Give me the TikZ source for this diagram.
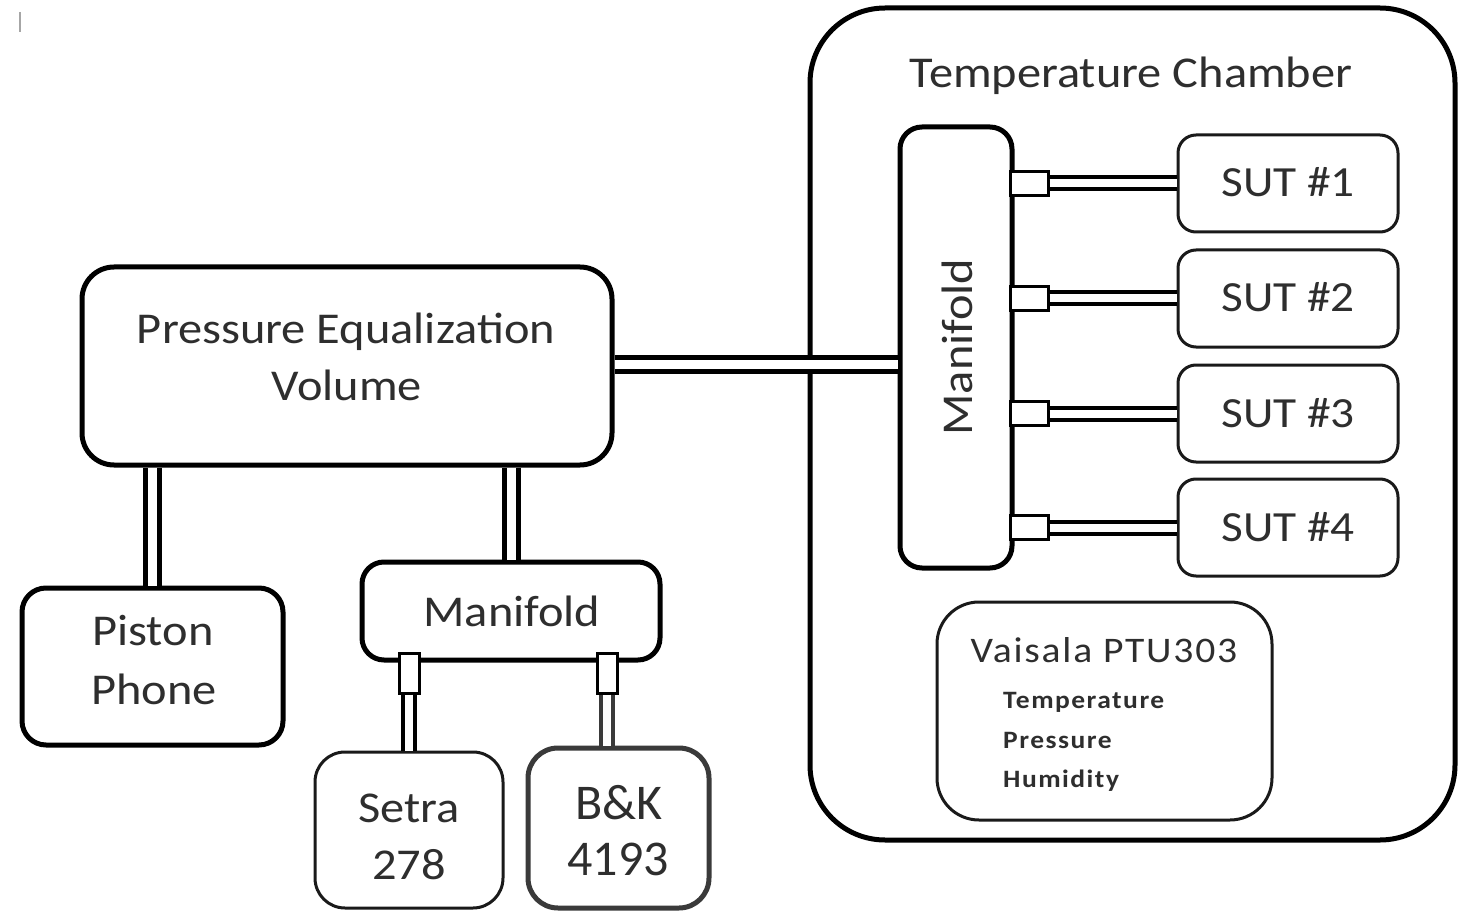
\documentclass[tikz,border=0pt]{standalone}
\usepackage{fontspec}
\setmainfont{Carlito}[FakeStretch=1.1]
\newfontfamily\plainfont{Carlito}
\definecolor{txt}{HTML}{2E2E2E}
\definecolor{edge}{HTML}{1A1A1A}
\definecolor{bkedge}{HTML}{3A3A3A}
\tikzset{
  heavybox/.style={draw=black, line width=5pt, fill=white, inner sep=0pt},
  lightbox/.style={draw=edge, line width=3pt, fill=white, inner sep=0pt},
  label/.style={inner sep=0pt, text=txt, anchor=base},
  fitting/.style={draw=black, line width=3pt, fill=white, inner sep=0pt},
  tube/.style={draw=black, line width=5pt, double=white, double distance=9pt},
  thintube/.style={draw=black, line width=4pt, double=white, double distance=8pt},
}
\newcommand{\fsz}[1]{\fontsize{#1}{#1}\selectfont}
\begin{document}
\begin{tikzpicture}[x=1pt, y=-1pt]
\useasboundingbox (0,0) rectangle (1460,912);

% stray mark near the top-left corner
\draw[gray!70, line width=1.5pt] (20,12) -- (20,32);

% temperature chamber enclosure
\node[heavybox, rounded corners=75pt, minimum width=645pt, minimum height=832pt]
  (chamber) at (1132.5,424) {};
\node[label, font=\fsz{44}] (chtitle) at (1131,88) {Temperature Chamber};

% pressure equalization volume and what hangs below it
\node[heavybox, rounded corners=32pt, minimum width=530pt, minimum height=198pt]
  (pev) at (347,366) {};
\node[label, font=\fsz{44}] (pev1) at (346,343) {Pressure Equalization};
\node[label, font=\fsz{44}] (pev2) at (347,400) {Volume};

\node[heavybox, rounded corners=24pt, minimum width=261pt, minimum height=157pt]
  (piston) at (152.5,666.5) {};
\node[label, font=\fsz{44}] (piston1) at (153,645) {Piston};
\node[label, font=\fsz{44}] (piston2) at (154,704) {Phone};

\node[heavybox, rounded corners=22pt, minimum width=298pt, minimum height=98pt]
  (manB) at (511,611) {};
\node[label, font=\fsz{44}] (manBtext) at (512,626) {Manifold};

\node[lightbox, rounded corners=30pt, minimum width=188pt, minimum height=156pt]
  (setra) at (409,830) {};
\node[label, font=\fsz{44}] (setra1) at (409,822) {Setra};
\node[label, font=\fsz{44}] (setra2) at (409,879) {278};

\node[draw=bkedge, line width=5pt, fill=white, inner sep=0pt,
  rounded corners=30pt, minimum width=181pt, minimum height=160pt]
  (bk) at (618.5,828) {};
\node[label, font=\plainfont\fsz{50}] (bk1) at (619,819) {B\&K};
\node[label, font=\plainfont\fsz{50}] (bk2) at (618,875) {4193};

% fittings under the lower manifold
\node[fitting, minimum width=20pt, minimum height=40pt] (fitB1) at (409,673) {};
\node[fitting, minimum width=20pt, minimum height=40pt] (fitB2) at (607,673) {};

% manifold inside the chamber
\node[heavybox, rounded corners=22pt, minimum width=112pt, minimum height=441pt]
  (manR) at (956,347.5) {};
\node[inner sep=0pt, text=txt, rotate=90, font=\fsz{44}] (manRtext) at (957,347) {Manifold};

% sensors under test
\foreach \i/\yc in {1/183.5, 2/298.5, 3/413.5, 4/527.5}{
  \node[lightbox, rounded corners=18pt, minimum width=220pt, minimum height=97pt]
    (sut\i) at (1288,\yc) {};
  \node[label, font=\fsz{43}] (sutlabel\i) at (1288,\yc+13.5) {SUT \#\i};
  \node[fitting, minimum width=38pt, minimum height=24pt] (fit\i) at (1029,\yc) {};
}

% reference instrument
\node[lightbox, rounded corners=42pt, minimum width=335pt, minimum height=218pt]
  (vais) at (1104.5,711) {};
\node[label, font={\fsz{36}\addfontfeature{LetterSpace=5}}] (vaistitle) at (1104,662) {Vaisala PTU303};
\begin{scope}[every node/.style={inner sep=0pt, text=txt, anchor=base west,
    font={\fsz{25}\bfseries\addfontfeature{LetterSpace=6}}}]
  \node (vt) at (1003,708) {Temperature};
  \node (vp) at (1003,748) {Pressure};
  \node (vh) at (1003,787) {Humidity};
\end{scope}

% tubing
\draw[tube] ([yshift=2pt]pev.east) -- ([yshift=2pt]pev.east -| manR.west);
\draw[tube] (pev.south -| piston.north) -- (piston.north);
\draw[tube] (pev.south -| manB.north) -- (manB.north);
\draw[thintube] (fitB1.south) -- (fitB1.south |- setra.north);
\draw[thintube, draw=bkedge] (fitB2.south) -- (fitB2.south |- bk.north);
\foreach \i in {1,...,4}{
  \draw[thintube] (fit\i.east) -- (sut\i.west);
}
\end{tikzpicture}
\end{document}
